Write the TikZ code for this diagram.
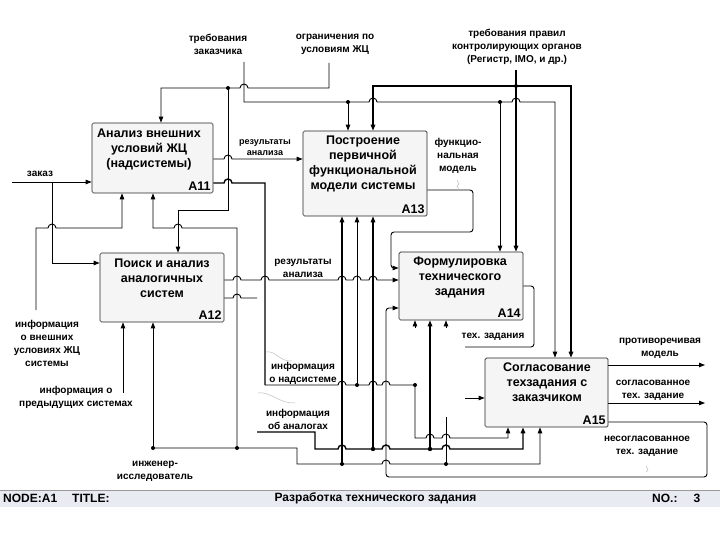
\documentclass[tikz,border=0pt]{standalone}
\usepackage{fontspec}
\setmainfont{Liberation Sans}
\usetikzlibrary{arrows.meta}
\newcommand\bR[2]{-- (#1-4,#2) arc[start angle=180,end angle=0,radius=4pt]}
\newcommand\bL[2]{-- (#1+4,#2) arc[start angle=0,end angle=180,radius=4pt]}
\begin{document}
\begin{tikzpicture}[x=1pt,y=-1pt,
  box/.style={draw=black!85, line width=0.7pt, fill=black!4, rounded corners=1.5pt, inner sep=0pt},
  btxt/.style={font=\fontsize{12.5}{15}\selectfont\bfseries, align=center, inner sep=0pt},
  bid/.style={font=\fontsize{12.5}{14}\selectfont\bfseries, inner sep=2.5pt, anchor=south east},
  lbl/.style={font=\fontsize{10}{13}\selectfont\bfseries, align=center, inner sep=0pt},
  ttl/.style={font=\fontsize{12}{14}\selectfont\bfseries, inner sep=0pt},
  ln/.style={line width=0.9pt},
  lnk/.style={line width=1.4pt},
  arr/.style={-{Triangle[length=6pt,width=4.5pt]}},
  sq/.style={draw=black!25, line width=0.5pt}
]
\useasboundingbox (0,0) rectangle (720,540);
\fill[white] (0,0) rectangle (720,540);

% boxes
\node[box, minimum width=121pt, minimum height=70pt] (a11) at (152.5,158) {};
\node[box, minimum width=124pt, minimum height=85pt] (a13) at (365,173.5) {};
\node[box, minimum width=124pt, minimum height=69pt] (a12) at (162,287.5) {};
\node[box, minimum width=124pt, minimum height=68pt] (a14) at (461,286) {};
\node[box, minimum width=123pt, minimum height=69pt] (a15) at (546.5,392.5) {};

\node[btxt] (t11) at (149,149.5) {Анализ внешних\\условий ЖЦ\\(надсистемы)};
\node[btxt] (t13) at (363,163.5) {Построение\\первичной\\функциональной\\модели системы};
\node[btxt] (t12) at (162,278.5) {Поиск и анализ\\аналогичных\\систем};
\node[btxt] (t14) at (460,277) {Формулировка\\технического\\задания};
\node[btxt] (t15) at (547,382.5) {Согласование\\техзадания с\\заказчиком};
\node[bid] (i11) at (a11.south east) {A11};
\node[bid] (i13) at (a13.south east) {A13};
\node[bid] (i12) at (a12.south east) {A12};
\node[bid] (i14) at (a14.south east) {A14};
\node[bid] (i15) at (a15.south east) {A15};

% labels
\node[lbl] (l1) at (218,44) {требования\\заказчика};
\node[lbl] (l2) at (335,44) {ограничения по\\условиям ЖЦ};
\node[lbl] (l3) at (517,47) {требования правил\\контролирующих органов\\(Регистр, IMO, и др.)};
\node[lbl, font=\fontsize{9}{11}\selectfont\bfseries] (l4) at (265,147.5) {результаты\\анализа};
\node[lbl] (l5) at (458,156) {функцио-\\нальная\\модель};
\node[lbl] (l6) at (40,174) {заказ};
\node[lbl] (l7) at (303,268.5) {результаты\\анализа};
\node[lbl] (l8) at (47,343) {информация\\о внешних\\условиях ЖЦ\\системы};
\node[lbl] (l9) at (493,337) {тех. задания};
\node[lbl] (l10) at (660,348.5) {противоречивая\\модель};
\node[lbl] (l11) at (303,373.5) {информация\\о надсистеме};
\node[lbl] (l12) at (653,390.5) {согласованное\\тех. задание};
\node[lbl] (l13) at (76,397.5) {информация о\\предыдущих системах};
\node[lbl] (l14) at (298,419.5) {информация\\об аналогах};
\node[lbl] (l15) at (647,446.5) {несогласованное\\тех. задание};
\node[lbl] (l16) at (155,471.5) {инженер-\\исследователь};

% controls
\draw[lnk,arr] (516,70) -- (516,0 |- a14.north);
\draw[lnk,arr] (516,86) -- (373,86) -- (373,0 |- a13.north);
\draw[lnk,arr] (516,86) -- (571,86) -- (571,0 |- a15.north);
\fill (516,86) circle[radius=2pt];

\draw[ln,arr] (244,62) -- (244,102) -- (348,102) \bR{373}{102} -- (500,102) \bR{516}{102} -- (555,102) -- (555,0 |- a15.north);
\draw[ln,arr] (348,102) -- (348,0 |- a13.north);
\draw[ln,arr] (500,102) -- (500,0 |- a14.north);
\fill (348,102) circle[radius=2pt] (500,102) circle[radius=2pt];

\draw[ln,arr] (329,63) -- (329,88) \bL{244}{88} -- (161,88) -- (161,0 |- a11.north);
\draw[ln,arr] (228,88) -- (228,210) -- (178,210) -- (178,0 |- a12.north);
\fill (228,88) circle[radius=2pt];

% inputs
\draw[ln,arr] (12,182) -- (a11.west |- 0,182);
\draw[ln,arr] (52,182) -- (52,263) -- (a12.west |- 0,263);
\draw[ln,arr] (36,310) -- (36,228) \bR{52}{228} -- (122,228) -- (122,0 |- a11.south);

% outputs A11
\draw[ln,arr] (a11.east |- 0,159) \bR{228}{159} -- (a13.west |- 0,159);
\draw[lnk] (a11.east |- 0,183) \bR{228}{183} -- (265,183) -- (265,385);
\draw[ln,arr] (265,385) \bR{342}{385} -- (357,385) \bR{373}{385} \bR{386}{385} -- (415,385) -- (415,438) \bR{430}{438} \bR{446}{438} -- (508,438) -- (508,0 |- a15.south);
\draw[ln,arr] (357,385) -- (357,0 |- a13.south);
\fill (357,385) circle[radius=2pt] (415,385) circle[radius=2pt];

% outputs A12
\draw[ln,arr] (a12.east |- 0,280) \bR{237}{280} \bR{265}{280} \bR{342}{280} \bR{357}{280} \bR{373}{280} -- (a14.west |- 0,280);
\draw[ln] (a12.east |- 0,298) \bR{237}{298} -- (257,298);

% об аналогах
\draw[lnk,arr] (257,432) -- (315,432) -- (315,449) \bR{342}{449} -- (373,449) \bR{386}{449} -- (430,449) \bR{446}{449} -- (523,449) -- (523,0 |- a15.south);
\draw[lnk,arr] (373,449) -- (373,0 |- a13.south);
\draw[lnk,arr] (430,449) -- (430,0 |- a14.south);
\fill (373,449) circle[radius=2.2pt] (430,449) circle[radius=2.2pt];

% инженер-исследователь
\draw[ln,arr] (153,448) -- (153,0 |- a12.south);
\draw[ln,arr] (153,448) -- (297,448) -- (297,464) -- (342,464) \bR{386}{464} -- (540,464) -- (540,0 |- a15.south);
\draw[ln,arr] (237,448) -- (237,228) \bL{178}{228} -- (153,228) -- (153,0 |- a11.south);
\draw[lnk,arr] (342,464) -- (342,0 |- a13.south);
\draw[ln] (446,464) -- (446,417);
\fill (153,448) circle[radius=2pt] (237,448) circle[radius=2pt] (342,464) circle[radius=2pt] (446,464) circle[radius=2pt];

% предыдущие системы
\draw[ln,arr] (123,393) -- (123,0 |- a12.south);

% A13 output
\draw[ln,arr,rounded corners=3pt] (a13.east |- 0,190) -- (473,190) -- (473,232) -- (391,232) -- (391,268) -- (a14.west |- 0,268);

% A14 output and stubs
\draw[ln,rounded corners=3pt] (a14.east |- 0,286) -- (534,286) -- (534,347) -- (465,347);
\draw[ln,arr] (465,398) -- (a15.west |- 0,398);
\draw[ln,arr] (415,328) -- (415,0 |- a14.south);
\draw[ln,arr] (446,328) -- (446,0 |- a14.south);

% A15 outputs
\draw[ln,arr] (a15.east |- 0,365) -- (705,365);
\draw[ln,arr] (a15.east |- 0,403) -- (705,403);
\draw[ln,arr,rounded corners=3pt] (a15.east |- 0,422) -- (707,422) -- (707,477) -- (386,477) -- (386,308) -- (a14.west |- 0,308);

% squiggles
\draw[sq] (457,180) -- (459,184) -- (457,186) -- (459,190);
\draw[sq] (266,352) .. controls (275,350) and (280,362) .. (292,361);
\draw[sq] (258,393) .. controls (270,391) and (280,404) .. (295,403);
\draw[sq] (646,466) -- (648,470) -- (646,472);

% title bar
\node[fill={rgb,255:red,233;green,235;blue,242}, minimum width=720pt, minimum height=17pt, inner sep=0pt] (bar) at (360,498.5) {};
\draw[black!40, line width=0.6pt] (bar.north west) -- (bar.north east);
\node[ttl, anchor=west] (n1) at (3,498.5) {NODE:A1};
\node[ttl, anchor=west] (n2) at (72,498.5) {TITLE:};
\node[ttl] (n3) at (375.5,498.5) {Разработка технического задания};
\node[ttl, anchor=west] (n4) at (652,498.5) {NO.:};
\node[ttl] (n5) at (697,498.5) {3};
\end{tikzpicture}
\end{document}
